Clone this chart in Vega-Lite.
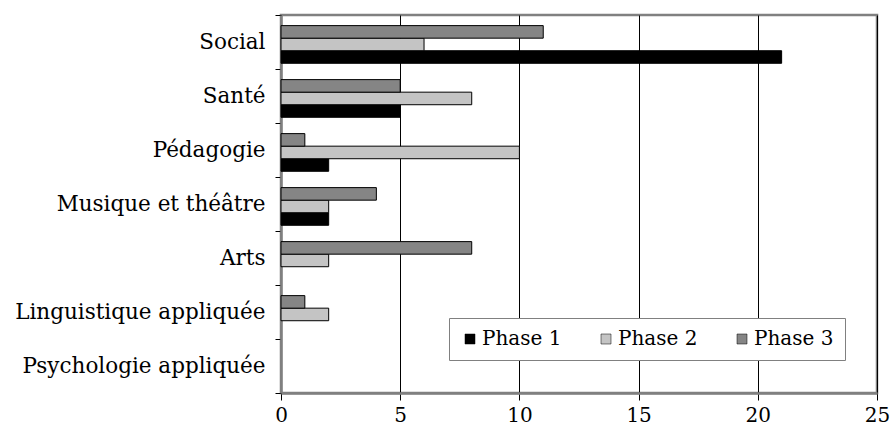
{
  "$schema": "https://vega.github.io/schema/vega-lite/v6.json",
  "autosize": "none",
  "width": 596,
  "height": 378,
  "padding": {"left": 281, "top": 15, "right": 13, "bottom": 38},
  "background": "white",
  "data": {"values": [
    {"cat": "Social", "phase": "Phase 1", "v": 21},
    {"cat": "Social", "phase": "Phase 2", "v": 6},
    {"cat": "Social", "phase": "Phase 3", "v": 11},
    {"cat": "Santé", "phase": "Phase 1", "v": 5},
    {"cat": "Santé", "phase": "Phase 2", "v": 8},
    {"cat": "Santé", "phase": "Phase 3", "v": 5},
    {"cat": "Pédagogie", "phase": "Phase 1", "v": 2},
    {"cat": "Pédagogie", "phase": "Phase 2", "v": 10},
    {"cat": "Pédagogie", "phase": "Phase 3", "v": 1},
    {"cat": "Musique et théâtre", "phase": "Phase 1", "v": 2},
    {"cat": "Musique et théâtre", "phase": "Phase 2", "v": 2},
    {"cat": "Musique et théâtre", "phase": "Phase 3", "v": 4},
    {"cat": "Arts", "phase": "Phase 1", "v": 0},
    {"cat": "Arts", "phase": "Phase 2", "v": 2},
    {"cat": "Arts", "phase": "Phase 3", "v": 8},
    {"cat": "Linguistique appliquée", "phase": "Phase 1", "v": 0},
    {"cat": "Linguistique appliquée", "phase": "Phase 2", "v": 2},
    {"cat": "Linguistique appliquée", "phase": "Phase 3", "v": 1},
    {"cat": "Psychologie appliquée", "phase": "Phase 1", "v": 0},
    {"cat": "Psychologie appliquée", "phase": "Phase 2", "v": 0},
    {"cat": "Psychologie appliquée", "phase": "Phase 3", "v": 0}
  ]},
  "mark": {"type": "bar", "stroke": "black"},
  "encoding": {
    "y": {
      "field": "cat", "type": "nominal",
      "sort": ["Social", "Santé", "Pédagogie", "Musique et théâtre", "Arts", "Linguistique appliquée", "Psychologie appliquée"],
      "scale": {"paddingInner": 0, "paddingOuter": 0},
      "axis": {
        "title": null, "tickBand": "extent", "grid": false,
        "domainColor": "#808080", "domainWidth": 2.5,
        "tickColor": "black", "tickSize": 6, "tickWidth": 1,
        "labelFont": "DejaVu Serif", "labelFontSize": 21.5, "labelColor": "black",
        "labelPadding": 10, "labelLimit": 400
      }
    },
    "yOffset": {
      "field": "phase", "type": "nominal",
      "scale": {"domain": ["Phase 3", "Phase 2", "Phase 1"], "paddingInner": 0, "paddingOuter": 0.65, "align": 0.65}
    },
    "x": {
      "field": "v", "type": "quantitative",
      "scale": {"domain": [0, 25], "nice": false},
      "axis": {
        "title": null, "values": [0, 5, 10, 15, 20, 25],
        "grid": true, "gridColor": "black", "gridWidth": 1, "gridOpacity": 1,
        "domainColor": "#808080", "domainWidth": 2.5,
        "tickColor": "black", "tickSize": 7, "tickWidth": 1,
        "labelFont": "DejaVu Serif", "labelFontSize": 20, "labelColor": "black",
        "labelPadding": 5, "labelFlush": false
      }
    },
    "fill": {
      "field": "phase", "type": "nominal",
      "scale": {"domain": ["Phase 1", "Phase 2", "Phase 3"], "range": ["black", "#c4c4c4", "#858585"]},
      "legend": {
        "title": null, "orient": "none", "legendX": 168, "legendY": 303,
        "direction": "horizontal", "columns": 3, "columnPadding": 34,
        "padding": 11, "strokeColor": "#808080", "fillColor": "white",
        "symbolType": "square", "symbolSize": 100, "symbolStrokeColor": "black", "symbolStrokeWidth": 0.5,
        "labelFont": "DejaVu Serif", "labelFontSize": 20, "labelColor": "black", "labelOffset": 2, "labelLimit": 300
      }
    },
    "strokeWidth": {"condition": {"test": "datum.v == 0", "value": 0}, "value": 1}
  },
  "config": {
    "view": {"stroke": "#808080", "strokeWidth": 2.5},
    "axis": {"gridColor": "black"}
  }
}
